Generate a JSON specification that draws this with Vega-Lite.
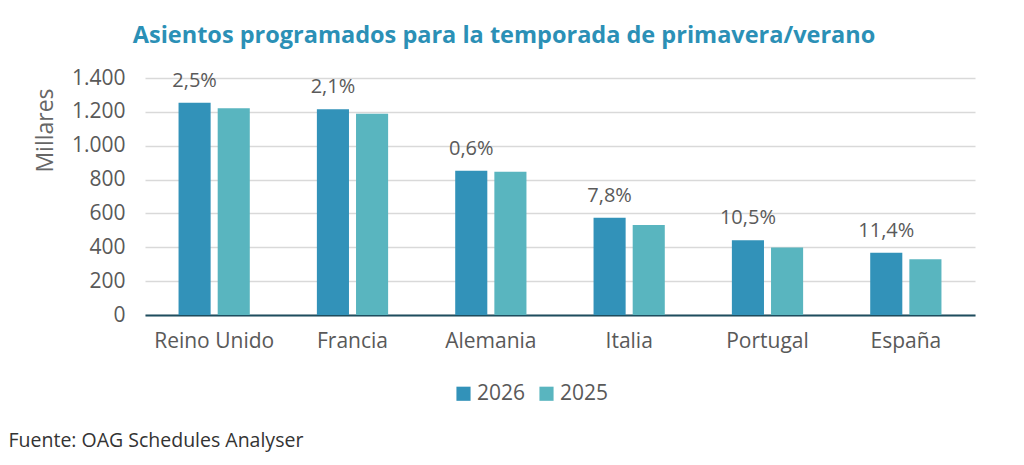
{
  "$schema": "https://vega.github.io/schema/vega-lite/v6.json",
  "autosize": {"type": "none"},
  "padding": {"left": 145, "top": 78, "right": 49, "bottom": 150},
  "width": 830,
  "height": 237,
  "background": "white",
  "title": {
    "text": "Asientos programados para la temporada de primavera/verano",
    "font": "Open Sans",
    "fontSize": 23.5,
    "fontWeight": "bold",
    "color": "#2b90b6",
    "anchor": "middle",
    "dx": -56,
    "offset": 20
  },
  "data": {
    "values": [
      {"pais": "Reino Unido", "anio": "2026", "valor": 1254, "cambio": "2,5%"},
      {"pais": "Reino Unido", "anio": "2025", "valor": 1222, "cambio": ""},
      {"pais": "Francia", "anio": "2026", "valor": 1215, "cambio": "2,1%"},
      {"pais": "Francia", "anio": "2025", "valor": 1189, "cambio": ""},
      {"pais": "Alemania", "anio": "2026", "valor": 852, "cambio": "0,6%"},
      {"pais": "Alemania", "anio": "2025", "valor": 846, "cambio": ""},
      {"pais": "Italia", "anio": "2026", "valor": 575, "cambio": "7,8%"},
      {"pais": "Italia", "anio": "2025", "valor": 532, "cambio": ""},
      {"pais": "Portugal", "anio": "2026", "valor": 441, "cambio": "10,5%"},
      {"pais": "Portugal", "anio": "2025", "valor": 398, "cambio": ""},
      {"pais": "España", "anio": "2026", "valor": 368, "cambio": "11,4%"},
      {"pais": "España", "anio": "2025", "valor": 329, "cambio": ""}
    ]
  },
  "encoding": {
    "x": {
      "field": "pais",
      "type": "nominal",
      "sort": ["Reino Unido", "Francia", "Alemania", "Italia", "Portugal", "España"],
      "scale": {"paddingInner": 0.485, "paddingOuter": 0.2425},
      "axis": {
        "title": "Fuente: OAG Schedules Analyser",
        "titleAnchor": "start",
        "titleAlign": "left",
        "titleX": -137,
        "titleY": 116,
        "titleFont": "Open Sans",
        "titleFontSize": 19.5,
        "titleFontWeight": "normal",
        "titleColor": "#333333",
        "labelAngle": 0,
        "labelFont": "Open Sans",
        "labelFontSize": 21,
        "labelColor": "#595959",
        "labelPadding": 15,
        "ticks": false,
        "domainColor": "#1e4d5e",
        "domainWidth": 2
      }
    },
    "xOffset": {
      "field": "anio",
      "type": "nominal",
      "sort": ["2026", "2025"],
      "scale": {"paddingInner": 0.18, "paddingOuter": 0}
    },
    "y": {
      "field": "valor",
      "type": "quantitative",
      "scale": {"domain": [0, 1400], "nice": false},
      "axis": {
        "values": [0, 200, 400, 600, 800, 1000, 1200, 1400],
        "tickCount": 8,
        "format": ",d",
        "labelExpr": "replace(datum.label, ',', '.')",
        "labelOverlap": false,
        "title": "Millares",
        "titleFont": "Open Sans",
        "titleFontSize": 23,
        "titleFontWeight": "normal",
        "titleColor": "#666666",
        "titleX": -88,
        "titleY": 52,
        "titleAngle": -90,
        "titleAlign": "center",
        "labelFont": "Open Sans",
        "labelFontSize": 21,
        "labelColor": "#595959",
        "labelPadding": 20,
        "ticks": false,
        "domain": false,
        "gridColor": "#d9d9d9",
        "gridWidth": 1.5
      }
    }
  },
  "layer": [
    {
      "mark": {"type": "bar"},
      "encoding": {
        "color": {
          "field": "anio",
          "type": "nominal",
          "sort": ["2026", "2025"],
          "scale": {"domain": ["2026", "2025"], "range": ["#3292b9", "#59b5bf"]},
          "legend": {
            "orient": "none",
            "legendX": 308,
            "legendY": 305,
            "direction": "horizontal",
            "title": null,
            "symbolType": "square",
            "symbolSize": 200,
            "symbolStrokeWidth": 0,
            "labelFont": "Open Sans",
            "labelFontSize": 21,
            "labelColor": "#595959",
            "columnPadding": 10,
            "labelOffset": 3
          }
        }
      }
    },
    {
      "mark": {"type": "text", "dy": -12, "font": "Open Sans", "fontSize": 20, "color": "#5a5a5a", "baseline": "bottom"},
      "transform": [{"filter": "datum.anio == '2026'"}],
      "encoding": {
        "text": {"field": "cambio"}
      }
    }
  ],
  "config": {"view": {"stroke": null}}
}
